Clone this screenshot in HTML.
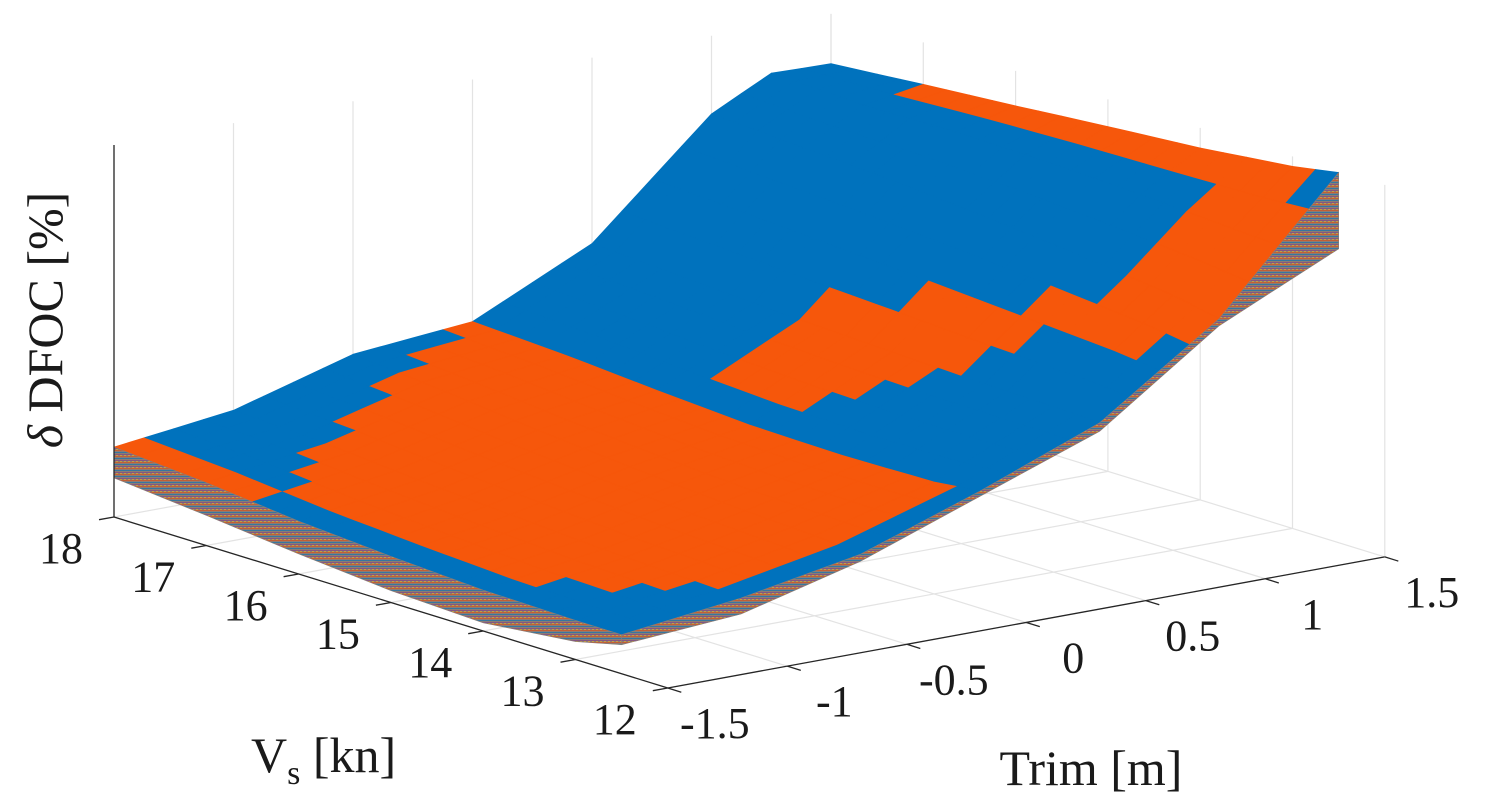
<!DOCTYPE html>
<html>
<head>
<meta charset="utf-8">
<style>
  html,body{margin:0;padding:0;background:#fff;}
  svg{display:block;}
  .tick{font-family:"Liberation Serif",serif;font-size:44px;fill:#1a1a1a;}
  .alabel{font-family:"Liberation Serif",serif;font-size:50px;fill:#1a1a1a;}
</style>
</head>
<body>
<svg id="chart" width="1486" height="810" viewBox="0 0 1486 810" xmlns="http://www.w3.org/2000/svg">
  <defs>
    <pattern id="layers" width="4" height="6" patternUnits="userSpaceOnUse">
      <rect x="0" y="0" width="4" height="6" fill="#8c7c74"/>
      <rect x="0" y="0" width="4" height="1" fill="#D95319" opacity="0.7"/>
      <rect x="0" y="2" width="4" height="1" fill="#0072BD" opacity="0.6"/>
      <rect x="0" y="4" width="4" height="1" fill="#7E2F8E" opacity="0.5"/>
      <rect x="0" y="5" width="2" height="1" fill="#EDB120" opacity="0.6"/>
    </pattern>
  </defs>
  <g id="grid"></g>
  <g id="surface"></g>
  <g id="axes"></g>
  <g id="labels"></g>
  <text class="alabel" x="251" y="772">V<tspan font-size="34" dy="12">s</tspan><tspan dy="-12"> [kn]</tspan></text>
  <text class="alabel" x="1091" y="785" text-anchor="middle">Trim [m]</text>
  <text class="alabel" transform="translate(62,320) rotate(-90)" text-anchor="middle" font-size="52"><tspan font-style="italic">δ</tspan> DFOC [%]</text>
</svg>
<script>
// ---- data ----
const vsRows = [18, 17, 16, 15, 14, 13, 12.5];                 // Vs grid [kn]
const trimCols = [-1.5, -1, -0.5, 0, 0.5, 1, 1.25, 1.5];       // Trim grid [m]
const zTop0 = [18.8, 22.8, 32.0, 34.9, 50.0, 79.0, 87.0, 86.6]; // Vs=18
const zTop1 = [16.9, 21.5, 29.6, 33.6, 48.5, 77.5, 86.0, 88.7]; // Vs=17
const zTop2 = [14.2, 19.4, 26.9, 31.7, 47.0, 76.0, 86.5, 90.6]; // Vs=16
const zTop3 = [12.4, 17.7, 24.7, 30.1, 46.0, 74.0, 86.0, 92.7]; // Vs=15
const zTop4 = [11.0, 16.1, 22.8, 29.6, 45.0, 71.5, 85.0, 94.6]; // Vs=14
const zTop5 = [10.5, 15.1, 21.5, 30.1, 44.5, 68.5, 83.5, 97.3]; // Vs=13
const zTop6 = [10.5, 14.5, 20.4, 31.5, 44.0, 66.1, 82.8, 99.5]; // Vs=12.5
const zBottomLeft = [10.5, 8.1, 5.4, 3.2, 2.2, 4.8, 7.8];             // Trim=-1.5, along vsRows
const zBottomFront = [7.8, 10.2, 18.5, 30.1, 41.7, 64.2, 71.6, 79.0]; // Vs=12.5, along trimCols
// best-solution category map (run-length rows, Vs 18 -> 12.5 step 0.25, Trim step 0.125)
const categoryRows = [
  "o1 b10 o1 b12", "o1 b8 o3 b12", "o1 b6 o5 b12", "o1 b4 o7 b12",
  "o1 b2 o9 b11 o1", "o1 b1 o10 b11 o1", "b1 o11 b11 o1", "b1 o11 b11 o1",
  "b1 o11 b11 o1", "b1 o11 b1 o4 b6 o1", "b1 o11 b1 o4 b6 o1", "b1 o11 b1 o4 b6 o1",
  "b1 o11 b1 o5 b5 o1", "b1 o11 b2 o4 b5 o1", "b1 o11 b3 o3 b5 o1", "b1 o11 b4 o2 b5 o1",
  "b1 o11 b5 o2 b4 o1", "b2 o10 b6 o1 b4 o1", "b2 o10 b6 o6", "b3 o9 b6 o6",
  "b4 o8 b6 o6", "b19 o4 b1"
];
const vsTicks = [18, 17, 16, 15, 14, 13, 12];
const trimTicks = [-1.5, -1, -0.5, 0, 0.5, 1, 1.5];
const trimTickLabels = ["-1.5", "-1", "-0.5", "0", "0.5", "1", "1.5"];

// ---- axes (projection) ----
const ORIGIN = [114, 517], EV = [92.3, 28.5], ET = [239, -43.7], ZPX = 3.72;
function proj(v, t, z) {
  const dv = 18 - v, dt = t + 1.5;
  return [ORIGIN[0] + EV[0]*dv + ET[0]*dt, ORIGIN[1] + EV[1]*dv + ET[1]*dt - z*ZPX];
}
const zTop = [zTop0, zTop1, zTop2, zTop3, zTop4, zTop5, zTop6];
function interp1(arr, keys, x) {
  for (let i = 0; i < keys.length - 1; i++) {
    const a = keys[i], b = keys[i+1];
    if ((x - a) * (x - b) <= 0) { const f = (x - a) / (b - a); return arr[i] + f*(arr[i+1]-arr[i]); }
  }
  return arr[arr.length-1];
}
function zAt(v, t) {
  const col = zTop.map(row => interp1(row, trimCols, t));
  return interp1(col, vsRows, v);
}
const NS = "http://www.w3.org/2000/svg";
function mk(tag, attrs, parent) {
  const e = document.createElementNS(NS, tag);
  for (const k in attrs) e.setAttribute(k, attrs[k]);
  parent.appendChild(e); return e;
}
const pts = a => a.map(p => p[0].toFixed(1) + "," + p[1].toFixed(1)).join(" ");

// ---- grid ----
const grid = document.getElementById("grid");
trimTicks.forEach(t => {
  const a = proj(18, t, 0), b = proj(12, t, 0), c = proj(18, t, 100);
  const l1 = mk("line", {x1:a[0], y1:a[1], x2:b[0], y2:b[1], stroke:"#e3e3e3", "stroke-width":1.2}, grid);
  
  
  const l2 = mk("line", {x1:a[0], y1:a[1], x2:c[0], y2:c[1], stroke:"#e3e3e3", "stroke-width":1.2}, grid);
  
  
});
vsTicks.forEach(v => {
  const a = proj(v, -1.5, 0), b = proj(v, 1.5, 0), c = proj(v, 1.5, 100);
  const l1 = mk("line", {x1:a[0], y1:a[1], x2:b[0], y2:b[1], stroke:"#e3e3e3", "stroke-width":1.2}, grid);
  
  
  const l2 = mk("line", {x1:b[0], y1:b[1], x2:c[0], y2:c[1], stroke:"#e3e3e3", "stroke-width":1.2}, grid);
  
  
});

// ---- surface ----
const surf = document.getElementById("surface");
const COLORS = {b: "#0072BD", o: "#F6570B"};
const cells = [];
categoryRows.forEach((row, r) => {
  const cats = [];
  row.split(" ").forEach(tok => { const c = tok[0], n = parseInt(tok.slice(1)); for (let i = 0; i < n; i++) cats.push(c); });
  const v0 = 18 - 0.25*r, v1 = v0 - 0.25;
  cats.forEach((c, k) => {
    const t0 = -1.5 + 0.125*k, t1 = t0 + 0.125;
    const poly = [proj(v0,t0,zAt(v0,t0)), proj(v0,t1,zAt(v0,t1)), proj(v1,t1,zAt(v1,t1)), proj(v1,t0,zAt(v1,t0))];
    const depth = proj((v0+v1)/2, (t0+t1)/2, 0)[1];
    cells.push({poly, c, depth});
  });
});
cells.sort((a, b) => a.depth - b.depth);
cells.forEach(cell => {
  const p = mk("polygon", {points: pts(cell.poly), fill: COLORS[cell.c], stroke: COLORS[cell.c], "stroke-width": 0.8, "stroke-linejoin":"round"}, surf);
  
  
});
// left skirt (Trim = -1.5)
{
  const top = vsRows.map((v, i) => proj(v, -1.5, zTop[i][0]));
  const bot = vsRows.map((v, i) => proj(v, -1.5, zBottomLeft[i])).reverse();
  const sk = mk("polygon", {points: pts(top.concat(bot)), fill: "url(#layers)", stroke:"#8c7c74", "stroke-width":0.6}, surf);
  
  
}
// front skirt (Vs = 12.5)
{
  const top = trimCols.map((t, j) => proj(12.5, t, zTop6[j]));
  const bot = trimCols.map((t, j) => proj(12.5, t, zBottomFront[j])).reverse();
  const sk = mk("polygon", {points: pts(top.concat(bot)), fill: "url(#layers)", stroke:"#8c7c74", "stroke-width":0.6}, surf);
  
  
}

// ---- axes ----
const axes = document.getElementById("axes");
function axLine(a, b, name) {
  const l = mk("line", {x1:a[0], y1:a[1], x2:b[0], y2:b[1], stroke:"#262626", "stroke-width":1.3}, axes);
  
  
}
axLine(proj(18,-1.5,0), proj(12,-1.5,0), 'vs-axis-line');
axLine(proj(12,-1.5,0), proj(12,1.5,0), 'trim-axis-line');
axLine(proj(18,-1.5,0), proj(18,-1.5,100), 'z-axis-line');
const labels = document.getElementById("labels");
vsTicks.forEach(v => {
  const a = proj(v, -1.5, 0);
  axLine(a, [a[0]-15, a[1]+2.7], 'vs-tick');
  const t = mk("text", {x: a[0]-53, y: a[1]+46, class:"tick", "text-anchor":"middle"}, labels);
  
  
  t.textContent = String(v);
});
trimTicks.forEach((tv, i) => {
  const a = proj(12, tv, 0);
  axLine(a, [a[0]+13.5, a[1]+4.2], 'trim-tick');
  const t = mk("text", {x: a[0]+47, y: a[1]+50, class:"tick", "text-anchor":"middle"}, labels);
  
  
  t.textContent = trimTickLabels[i];
});
</script>
</body>
</html>
